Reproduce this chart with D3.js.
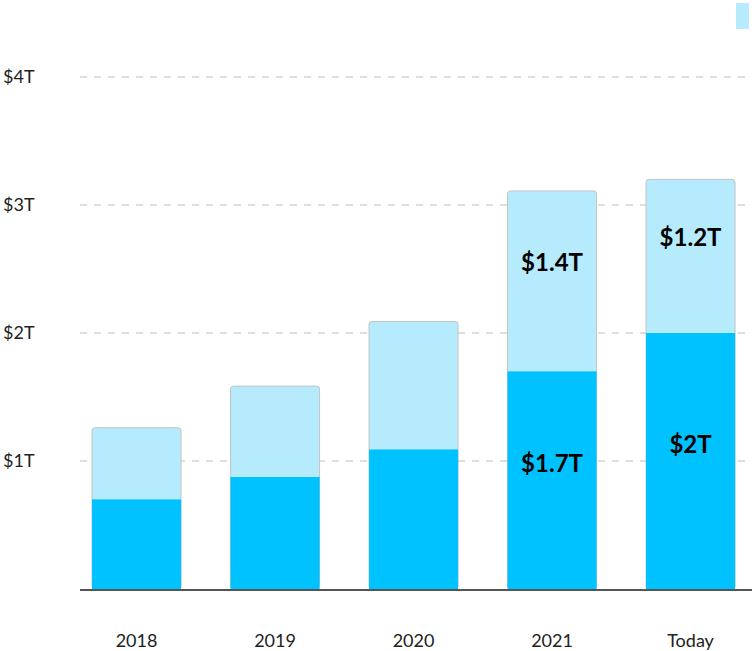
<!DOCTYPE html>
<html><head><meta charset="utf-8">
<script src="https://cdn.jsdelivr.net/npm/d3@7"></script>
<style>body{margin:0;background:#fff;} svg{display:block;font-family:"Source Sans Pro",Lato,"Open Sans",sans-serif;}</style>
</head><body><svg id="c" width="752" height="651"></svg>
<script>
const categories = ["2018","2019","2020","2021","Today"];
const baseValues = [0.7, 0.875, 1.09, 1.7, 2.0];
const topValues = [0.56, 0.71, 1.0, 1.41, 1.2];
const baseLabels = ["", "", "", "$1.7T", "$2T"];
const topLabels = ["", "", "", "$1.4T", "$1.2T"];
const yTicks = [1, 2, 3, 4];
const yTickLabels = ["$1T", "$2T", "$3T", "$4T"];

const svg = d3.select("#c");
const darkC = "#00c2ff", lightC = "#b5ebfc";
const x = d3.scaleBand().domain(categories).range([67.3, 759.8]).paddingInner(0.357).paddingOuter(0.1785);
const y = d3.scaleLinear().domain([0, 4]).range([589, 77]);

// gridlines
svg.append("g").selectAll("line").data(yTicks).join("line")
  .attr("x1", 80).attr("x2", 752).attr("y1", d => y(d)).attr("y2", d => y(d))
  .attr("stroke", "#dedede").attr("stroke-width", 2).attr("stroke-dasharray", "7,7");
svg.append("g").selectAll("text").data(yTicks).join("text")
  .attr("x", 3).attr("y", d => y(d)).attr("dy", "0.35em")
  .attr("font-size", 18).attr("fill", "#222").text((d, i) => yTickLabels[i]);

const data = categories.map((c, i) => ({c, b: baseValues[i], t: topValues[i], bl: baseLabels[i], tl: topLabels[i]}));

// top (light) segments, full stack with border
svg.append("g").selectAll("rect").data(data).join("rect")
  .attr("x", d => x(d.c)).attr("width", x.bandwidth())
  .attr("y", d => y(d.b + d.t)).attr("height", d => y(0) - y(d.b + d.t))
  .attr("rx", 3).attr("fill", lightC).attr("stroke", "#c4c4c4").attr("stroke-width", 1);
// base (dark) segments
svg.append("g").selectAll("rect").data(data).join("rect")
  .attr("x", d => x(d.c)).attr("width", x.bandwidth())
  .attr("y", d => y(d.b)).attr("height", d => y(0) - y(d.b))
  .attr("fill", darkC);

// labels
svg.append("g").selectAll("text").data(data.filter(d => d.tl)).join("text")
  .attr("x", d => x(d.c) + x.bandwidth() / 2)
  .attr("y", d => (y(d.b) + y(d.b + d.t)) / 2 - 10)
  .attr("text-anchor", "middle").attr("font-size", 24).attr("font-weight", "bold").attr("fill", "#000")
  .text(d => d.tl);
svg.append("g").selectAll("text").data(data.filter(d => d.bl)).join("text")
  .attr("x", d => x(d.c) + x.bandwidth() / 2)
  .attr("y", d => (y(0) + y(d.b)) / 2 - 8)
  .attr("text-anchor", "middle").attr("font-size", 24).attr("font-weight", "bold").attr("fill", "#000")
  .text(d => d.bl);

// baseline
svg.append("line").attr("x1", 80).attr("x2", 752).attr("y1", y(0) + 1).attr("y2", y(0) + 1)
  .attr("stroke", "#555").attr("stroke-width", 2);

// x labels
svg.append("g").selectAll("text").data(categories).join("text")
  .attr("x", d => x(d) + x.bandwidth() / 2).attr("y", 641).attr("dy", "0.35em")
  .attr("text-anchor", "middle").attr("font-size", 18).attr("fill", "#222").text(d => d);

// legend swatch
svg.append("rect").attr("x", 736).attr("y", 3).attr("width", 13).attr("height", 26).attr("fill", lightC);
</script></body></html>
